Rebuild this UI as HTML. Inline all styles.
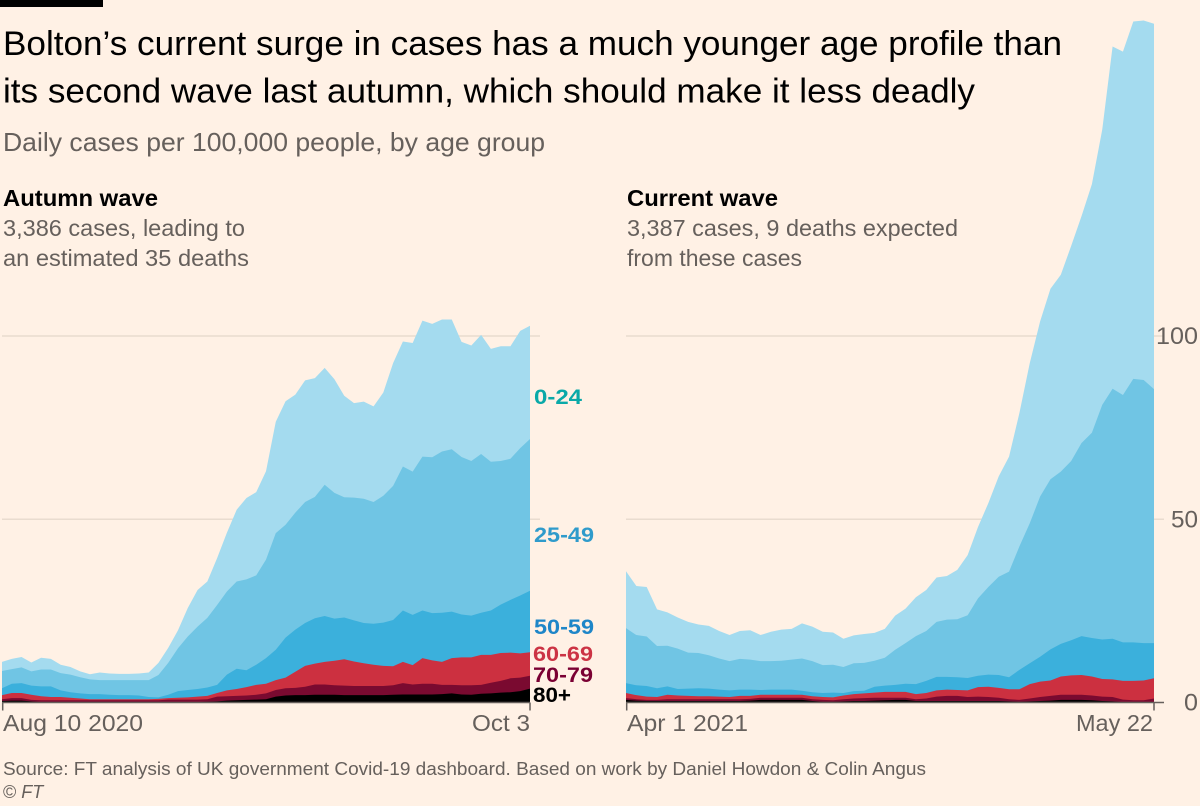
<!DOCTYPE html>
<html lang="en">
<head>
<meta charset="utf-8">
<title>Bolton age profile of Covid waves</title>
<style>
html,body{margin:0;padding:0;background:#fff1e5;width:1200px;height:806px;overflow:hidden}
svg{display:block}
text{font-family:"Liberation Sans",sans-serif}
</style>
</head>
<body>
<svg id="chart" xmlns="http://www.w3.org/2000/svg" width="1200" height="806" viewBox="0 0 1200 806">
  <rect x="0" y="0" width="1200" height="806" fill="#fff1e5"/>
  <rect x="0" y="0" width="103" height="7" fill="#000"/>
  <text x="3" y="55" font-size="34" fill="#000" textLength="1059" lengthAdjust="spacingAndGlyphs">Bolton’s current surge in cases has a much younger age profile than</text>
  <text x="3" y="102.5" font-size="34" fill="#000" textLength="972" lengthAdjust="spacingAndGlyphs">its second wave last autumn, which should make it less deadly</text>
  <text x="3" y="151" font-size="26" fill="#66605c" textLength="542" lengthAdjust="spacingAndGlyphs">Daily cases per 100,000 people, by age group</text>
  <text x="3" y="206" font-size="23" font-weight="bold" fill="#000" textLength="155" lengthAdjust="spacingAndGlyphs">Autumn wave</text>
  <text x="3" y="236" font-size="23" fill="#66605c" textLength="242" lengthAdjust="spacingAndGlyphs">3,386 cases, leading to</text>
  <text x="3" y="266" font-size="23" fill="#66605c" textLength="246" lengthAdjust="spacingAndGlyphs">an estimated 35 deaths</text>
  <text x="627" y="206" font-size="23" font-weight="bold" fill="#000" textLength="151" lengthAdjust="spacingAndGlyphs">Current wave</text>
  <text x="627" y="236" font-size="23" fill="#66605c" textLength="331" lengthAdjust="spacingAndGlyphs">3,387 cases, 9 deaths expected</text>
  <text x="627" y="266" font-size="23" fill="#66605c" textLength="175" lengthAdjust="spacingAndGlyphs">from these cases</text>

  <g id="grid"></g>
  <g id="left-panel"></g>
  <g id="right-panel"></g>
  <g id="axes"></g>

  <text x="534" y="404" font-size="21" font-weight="bold" fill="#0aa9a8" textLength="48" lengthAdjust="spacingAndGlyphs">0-24</text>
  <text x="534" y="542" font-size="21" font-weight="bold" fill="#2f9bcb" textLength="60" lengthAdjust="spacingAndGlyphs">25-49</text>
  <text x="534" y="634" font-size="21" font-weight="bold" fill="#1e86c8" textLength="60" lengthAdjust="spacingAndGlyphs">50-59</text>
  <text x="533" y="661" font-size="21" font-weight="bold" fill="#cc3344" textLength="60" lengthAdjust="spacingAndGlyphs">60-69</text>
  <text x="533" y="682" font-size="21" font-weight="bold" fill="#7a0033" textLength="60" lengthAdjust="spacingAndGlyphs">70-79</text>
  <text x="533" y="702" font-size="21" font-weight="bold" fill="#000" textLength="38" lengthAdjust="spacingAndGlyphs">80+</text>

  <text x="3" y="775" font-size="18" fill="#66605c" textLength="923" lengthAdjust="spacingAndGlyphs">Source: FT analysis of UK government Covid-19 dashboard. Based on work by Daniel Howdon &amp; Colin Angus</text>
  <text x="3" y="798" font-size="18" fill="#66605c">© <tspan font-style="italic">FT</tspan></text>
</svg>
<script>
// Autumn wave: daily cases per 100,000, Aug 10 to Oct 3 2020
const autumn0to24 = [2.5,2.8,2.8,2.4,3.2,2.9,2.3,2.1,1.6,1.4,
  2.1,1.8,1.7,1.7,1.8,2.1,3.3,4.1,4.9,7.8,
  10.0,9.9,12.8,16.0,19.6,22.2,22.7,24.1,30.4,33.7,
  32.2,33.2,32.4,31.9,31.0,27.7,25.8,26.5,26.1,28.2,
  33.5,34.1,35.1,37.1,36.4,36.0,35.4,31.4,31.5,32.5,
  30.8,31.3,30.7,32.0,30.9];
const autumn25to49 = [4.7,4.0,4.3,3.9,4.6,4.6,4.7,4.8,4.4,4.0,
  3.8,4.0,4.1,4.1,4.2,4.6,6.1,8.7,11.7,14.6,
  17.0,19.0,21.8,22.7,23.8,24.8,24.4,26.9,31.8,30.8,
  31.9,33.0,33.1,35.8,34.3,32.8,33.5,33.9,33.2,34.6,
  36.6,39.3,39.1,42.0,42.5,44.0,44.3,43.0,42.2,43.3,
  40.6,39.2,38.5,40.2,41.4];
const autumn50to59 = [1.9,2.5,2.7,2.5,2.7,2.9,1.8,1.5,1.4,1.4,
  1.4,1.2,1.1,1.1,1.0,0.6,0.4,0.9,1.8,2.0,
  2.1,2.3,2.2,4.3,5.5,4.6,5.5,7.0,8.3,10.9,
  11.5,11.7,12.4,12.5,11.5,11.4,11.2,11.0,11.2,11.8,
  12.6,14.0,13.7,13.0,12.9,13.4,12.7,11.7,11.4,11.5,
  12.1,13.2,14.4,15.8,16.8];
const autumn60to69 = [1.1,1.4,1.4,1.4,1.1,0.9,0.9,0.7,0.5,0.3,
  0.3,0.3,0.3,0.3,0.3,0.3,0.4,0.4,0.5,0.6,
  0.8,0.9,1.0,1.6,1.9,2.3,2.7,2.6,2.7,2.9,
  4.4,5.7,5.7,6.2,6.7,7.2,6.7,6.2,5.8,5.5,
  5.2,5.8,5.3,7.0,6.4,6.3,7.3,7.6,7.6,8.2,
  7.6,7.6,7.0,6.6,6.4];
const autumn70to79 = [0.5,0.7,0.7,0.4,0.5,0.5,0.5,0.5,0.5,0.5,
  0.5,0.5,0.5,0.5,0.5,0.5,0.5,0.7,0.7,0.7,
  0.7,0.7,1.3,1.2,1.2,1.2,1.3,1.6,1.8,2.0,
  2.0,2.3,2.8,2.8,2.6,2.6,2.5,2.5,2.5,2.5,
  2.6,3.1,2.7,2.9,2.9,2.5,2.3,2.5,2.6,2.4,
  2.9,3.2,3.8,3.7,3.5];
const autumn80plus = [0.4,0.5,0.5,0.3,0.1,0.1,0.1,0.1,0.1,0.1,
  0.1,0.1,0.1,0.1,0.1,0.1,0.1,0.1,0.1,0.1,
  0.1,0.2,0.3,0.5,0.6,0.7,0.8,0.9,1.6,1.9,
  2.0,2.0,2.1,2.1,2.1,2.0,2.0,2.0,2.0,2.0,
  2.1,2.2,2.2,2.2,2.2,2.3,2.5,2.2,2.1,2.4,
  2.5,2.7,2.8,3.1,3.8];

// Current wave: daily cases per 100,000, Apr 1 to May 22 2021
const current0to24 = [15.5,13.4,13.5,10.0,9.1,8.5,8.4,7.8,8.0,7.5,
  7.1,7.6,8.0,7.1,8.0,8.5,8.4,9.6,9.4,9.1,
  8.8,7.7,7.6,7.9,7.6,7.9,9.3,9.4,10.6,11.2,
  12.1,11.9,13.5,16.4,19.5,22.9,27.4,31.4,36.4,43.7,
  47.8,52.0,53.7,58.7,61.9,67.8,75.1,93.4,93.7,97.5,
  98.1,99.7];
const current25to49 = [15.0,13.7,13.5,11.5,11.1,11.0,9.8,9.6,9.1,8.5,
  8.0,8.4,8.2,7.9,7.8,7.9,8.2,8.8,8.5,7.6,
  7.6,7.1,7.6,7.6,7.1,7.6,9.6,11.1,13.1,13.6,
  15.0,15.6,15.8,17.1,21.1,23.9,26.8,28.8,33.7,38.2,
  43.7,46.4,47.0,48.9,52.7,56.0,64.0,68.2,67.5,71.9,
  71.8,69.3];
const current50to59 = [2.7,2.7,2.9,2.4,2.3,1.8,2.0,2.2,2.1,1.9,
  1.8,1.7,1.7,1.3,1.4,1.4,1.4,1.1,1.1,1.1,
  1.3,0.7,0.8,0.7,1.6,1.7,1.9,2.2,2.7,3.3,
  3.7,3.5,3.5,3.4,3.1,3.3,3.5,3.3,5.3,5.7,
  6.8,8.5,8.9,9.6,10.6,10.5,10.8,11.1,10.5,10.5,
  10.2,9.6];
const current60to69 = [1.4,1.1,0.9,0.8,1.2,1.0,0.9,0.8,0.8,0.7,
  0.6,0.9,0.8,0.8,0.8,0.8,0.8,0.8,0.8,0.8,
  0.8,1.0,1.2,1.3,1.4,1.6,1.6,1.6,1.4,1.5,
  1.7,1.7,1.6,1.8,2.6,2.8,2.7,2.7,2.9,3.9,
  4.2,4.2,5.0,5.3,5.4,5.2,4.8,4.8,5.1,5.3,
  5.4,5.5];
const current70to79 = [0.5,0.4,0.3,0.3,0.5,0.5,0.5,0.5,0.5,0.5,
  0.5,0.5,0.5,0.6,0.6,0.6,0.6,0.6,0.5,0.5,
  0.4,0.6,0.7,0.8,0.8,0.7,0.6,0.6,0.5,0.7,
  1.2,1.4,1.4,1.1,1.2,1.1,0.9,0.6,0.5,0.8,
  1.1,1.3,1.4,1.4,1.4,1.3,1.2,1.2,0.7,0.5,
  0.5,1.0];
const current80plus = [0.7,0.5,0.4,0.4,0.4,0.4,0.4,0.4,0.4,0.4,
  0.4,0.4,0.5,0.7,0.7,0.7,0.7,0.7,0.4,0.2,
  0.2,0.3,0.4,0.4,0.5,0.6,0.7,0.7,0.4,0.4,
  0.4,0.4,0.4,0.4,0.4,0.4,0.4,0.3,0.2,0.3,
  0.4,0.5,0.7,0.7,0.7,0.6,0.4,0.3,0.1,0.1,
  0.1,0.1];

const yTickValues = [0, 50, 100];
const yTickLabels = ["0", "50", "100"];
const autumnDateLabels = ["Aug 10 2020", "Oct 3"];
const currentDateLabels = ["Apr 1 2021", "May 22"];
const ageGroupNames = ["0-24", "25-49", "50-59", "60-69", "70-79", "80+"];

const SVG_NS = "http://www.w3.org/2000/svg";
const bandFills = ["#a4dbef", "#70c5e4", "#3bb0dc", "#cc3040", "#7a0a30", "#000000"];

function yScale(v) { return 702.5 - v * 3.665; }
function xScaleFor(start, end, count) {
  return function (i) { return start + i * (end - start) / (count - 1); };
}

function drawPanel(groupId, panelKey, seriesTopDown, xScale) {
  const group = document.getElementById(groupId);
  const n = seriesTopDown[0].length;
  // Draw from the top band down; each area reaches the baseline so no seams show.
  seriesTopDown.forEach(function (series, b) {
    let d = "";
    for (let i = 0; i < n; i++) {
      let total = 0;
      for (let k = b; k < seriesTopDown.length; k++) total += seriesTopDown[k][i];
      d += (i === 0 ? "M" : "L") + xScale(i).toFixed(2) + " " + yScale(total).toFixed(2);
    }
    d += "L" + xScale(n - 1).toFixed(2) + " " + yScale(0) + "L" + xScale(0).toFixed(2) + " " + yScale(0) + "Z";
    const path = document.createElementNS(SVG_NS, "path");
    path.setAttribute("d", d);
    path.setAttribute("fill", bandFills[b]);
    
    
    group.appendChild(path);
  });
}

function addLine(parent, name, x1, y1, x2, y2, stroke, width) {
  const line = document.createElementNS(SVG_NS, "line");
  line.setAttribute("x1", x1);
  line.setAttribute("y1", y1);
  line.setAttribute("x2", x2);
  line.setAttribute("y2", y2);
  line.setAttribute("stroke", stroke);
  line.setAttribute("stroke-width", width);
  
  
  parent.appendChild(line);
}

function addText(parent, name, content, x, y, anchor, targetLength, size) {
  const t = document.createElementNS(SVG_NS, "text");
  t.setAttribute("x", x);
  t.setAttribute("y", y);
  t.setAttribute("font-size", size);
  t.setAttribute("fill", "#66605c");
  t.setAttribute("text-anchor", anchor);
  t.setAttribute("textLength", targetLength);
  t.setAttribute("lengthAdjust", "spacingAndGlyphs");
  
  
  t.textContent = content;
  parent.appendChild(t);
}

const xAutumn = xScaleFor(2, 530, autumn0to24.length);
const xCurrent = xScaleFor(626, 1154, current0to24.length);

drawPanel("left-panel", "autumn",
  [autumn0to24, autumn25to49, autumn50to59, autumn60to69, autumn70to79, autumn80plus], xAutumn);
drawPanel("right-panel", "current",
  [current0to24, current25to49, current50to59, current60to69, current70to79, current80plus], xCurrent);

const gridGroup = document.getElementById("grid");
const axesGroup = document.getElementById("axes");

yTickValues.forEach(function (v, idx) {
  const y = yScale(v);
  if (v !== 0) {
    addLine(gridGroup, "gridline-left-" + v, 2, y, 540, y, "#e9dccf", 1.5);
    addLine(gridGroup, "gridline-right-" + v, 626, y, 1164, y, "#e9dccf", 1.5);
  }
  addText(axesGroup, "y-tick-label-" + v, yTickLabels[idx], 1198, y + 8, "end", [14, 27, 42][idx], 24);
});

const baseY = yScale(0);
addLine(axesGroup, "x-axis-left", 2, baseY, 530, baseY, "#66605c", 1.5);
addLine(axesGroup, "x-axis-right", 626, baseY, 1164, baseY, "#66605c", 1.5);
addLine(axesGroup, "x-tick-autumn-start", xAutumn(0) + 0.7, baseY, xAutumn(0) + 0.7, baseY + 8, "#66605c", 1.5);
addLine(axesGroup, "x-tick-autumn-end", xAutumn(54), baseY, xAutumn(54), baseY + 8, "#66605c", 1.5);
addLine(axesGroup, "x-tick-current-start", xCurrent(0) + 0.7, baseY, xCurrent(0) + 0.7, baseY + 8, "#66605c", 1.5);
addLine(axesGroup, "x-tick-current-end", xCurrent(51), baseY, xCurrent(51), baseY + 8, "#66605c", 1.5);

addText(axesGroup, "x-label-autumn-start", autumnDateLabels[0], 3, 731, "start", 140, 23);
addText(axesGroup, "x-label-autumn-end", autumnDateLabels[1], 530, 731, "end", 58, 23);
addText(axesGroup, "x-label-current-start", currentDateLabels[0], 627, 731, "start", 121, 23);
addText(axesGroup, "x-label-current-end", currentDateLabels[1], 1153, 731, "end", 77, 23);
</script>
</body>
</html>
